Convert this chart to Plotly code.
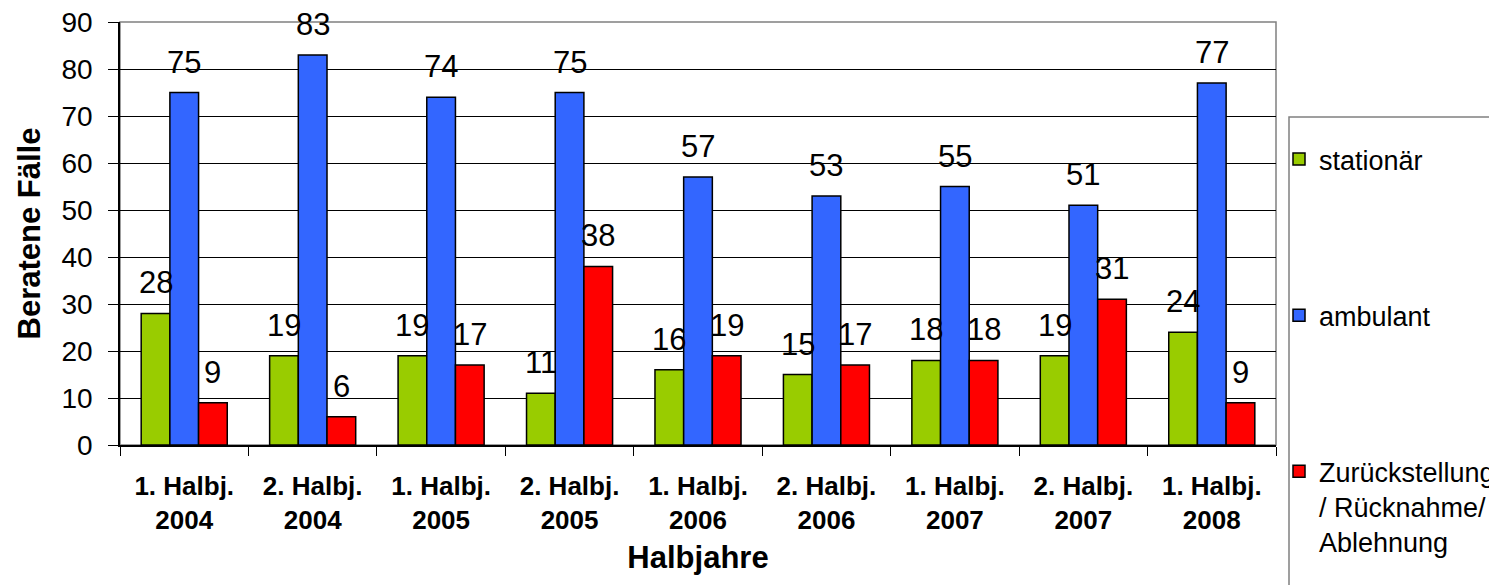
import plotly.graph_objects as go

categories = ["1. Halbj.<br>2004", "2. Halbj.<br>2004", "1. Halbj.<br>2005", "2. Halbj.<br>2005",
              "1. Halbj.<br>2006", "2. Halbj.<br>2006", "1. Halbj.<br>2007", "2. Halbj.<br>2007",
              "1. Halbj.<br>2008"]
stationaer = [28, 19, 19, 11, 16, 15, 18, 19, 24]
ambulant = [75, 83, 74, 75, 57, 53, 55, 51, 77]
zurueck = [9, 6, 17, 38, 19, 17, 18, 31, 9]
series_names = ["stationär", "ambulant", "Zurückstellung<br>/ Rücknahme/<br>Ablehnung"]
colors = ["#99CC00", "#3366FF", "#FF0000"]

FONT = "Liberation Sans, Arial, sans-serif"

# page body has an 8px default margin; figure sized to fit the window exactly
OFF = 8
W, H = 1497 - OFF, 585 - OFF
L, R, T, B = 112, 221, 14, 140
pw, ph = W - L - R, H - T - B
BARGAP = 0.33
n_series = 3
bar_px = pw / len(categories) * (1 - BARGAP) / n_series


def px(x):
    """screen x -> paper x"""
    return (x - OFF - L) / pw


def py(y):
    """screen y -> paper y"""
    return (H - B - (y - OFF)) / ph


fig = go.Figure()
annotations = []
all_series = [stationaer, ambulant, zurueck]
for i, (name, vals, col) in enumerate(zip(series_names, all_series, colors)):
    fig.add_trace(go.Bar(
        x=categories, y=vals, name=name, legendgroup=f"g{i}",
        marker=dict(color=col, line=dict(color="black", width=1.5)),
    ))
    for c, v in zip(categories, vals):
        annotations.append(dict(
            x=c, y=v, xref="x", yref="y", text=str(v), showarrow=False,
            xanchor="center", yanchor="bottom", borderpad=0,
            xshift=(i - (n_series - 1) / 2) * bar_px, yshift=12,
            font=dict(size=31, family=FONT, color="black"),
        ))

fig.update_layout(
    width=W, height=H,
    margin=dict(l=L, r=R, t=T, b=B, pad=0, autoexpand=False),
    paper_bgcolor="white", plot_bgcolor="white",
    font=dict(family=FONT, color="black"),
    barmode="group", bargap=BARGAP, bargroupgap=0,
    showlegend=True,
    legend=dict(x=px(1279), xanchor="left", y=py(135), yanchor="top",
                bgcolor="rgba(0,0,0,0)", borderwidth=0,
                font=dict(size=27, family=FONT, color="black"),
                tracegroupgap=118, traceorder="grouped", valign="top",
                itemwidth=30),
    xaxis=dict(
        automargin=False,
        tickson="boundaries", ticks="outside", ticklen=9, tickcolor="black",
        showline=True, linecolor="black", linewidth=1.5, showgrid=False,
        ticklabelstandoff=17, ticklabeloverflow="allow",
        tickfont=dict(size=26, family=FONT, color="black", weight="bold"),
        title=dict(text="<b>Halbjahre</b>", font=dict(size=31, family=FONT), standoff=13),
    ),
    yaxis=dict(
        automargin=False,
        range=[0, 90], dtick=10, ticks="outside", ticklen=10, tickcolor="black",
        showline=True, linecolor="black", linewidth=1.5,
        showgrid=True, gridcolor="black", gridwidth=1, zeroline=False,
        ticklabelstandoff=10, ticklabeloverflow="allow",
        tickfont=dict(size=28, family=FONT, color="black"),
        title=dict(text="<b>Beratene Fälle</b>", font=dict(size=31, family=FONT), standoff=12),
    ),
    annotations=annotations,
    shapes=[
        dict(type="rect", xref="paper", yref="paper", x0=0, x1=1, y0=0, y1=1,
             line=dict(color="#808080", width=1.5), layer="below"),
        dict(type="rect", xref="paper", yref="paper", x0=px(1289), x1=px(1496),
             y0=py(117), y1=py(620), line=dict(color="#808080", width=1.5), layer="below"),
    ],
)

fig.write_html("out.html")
